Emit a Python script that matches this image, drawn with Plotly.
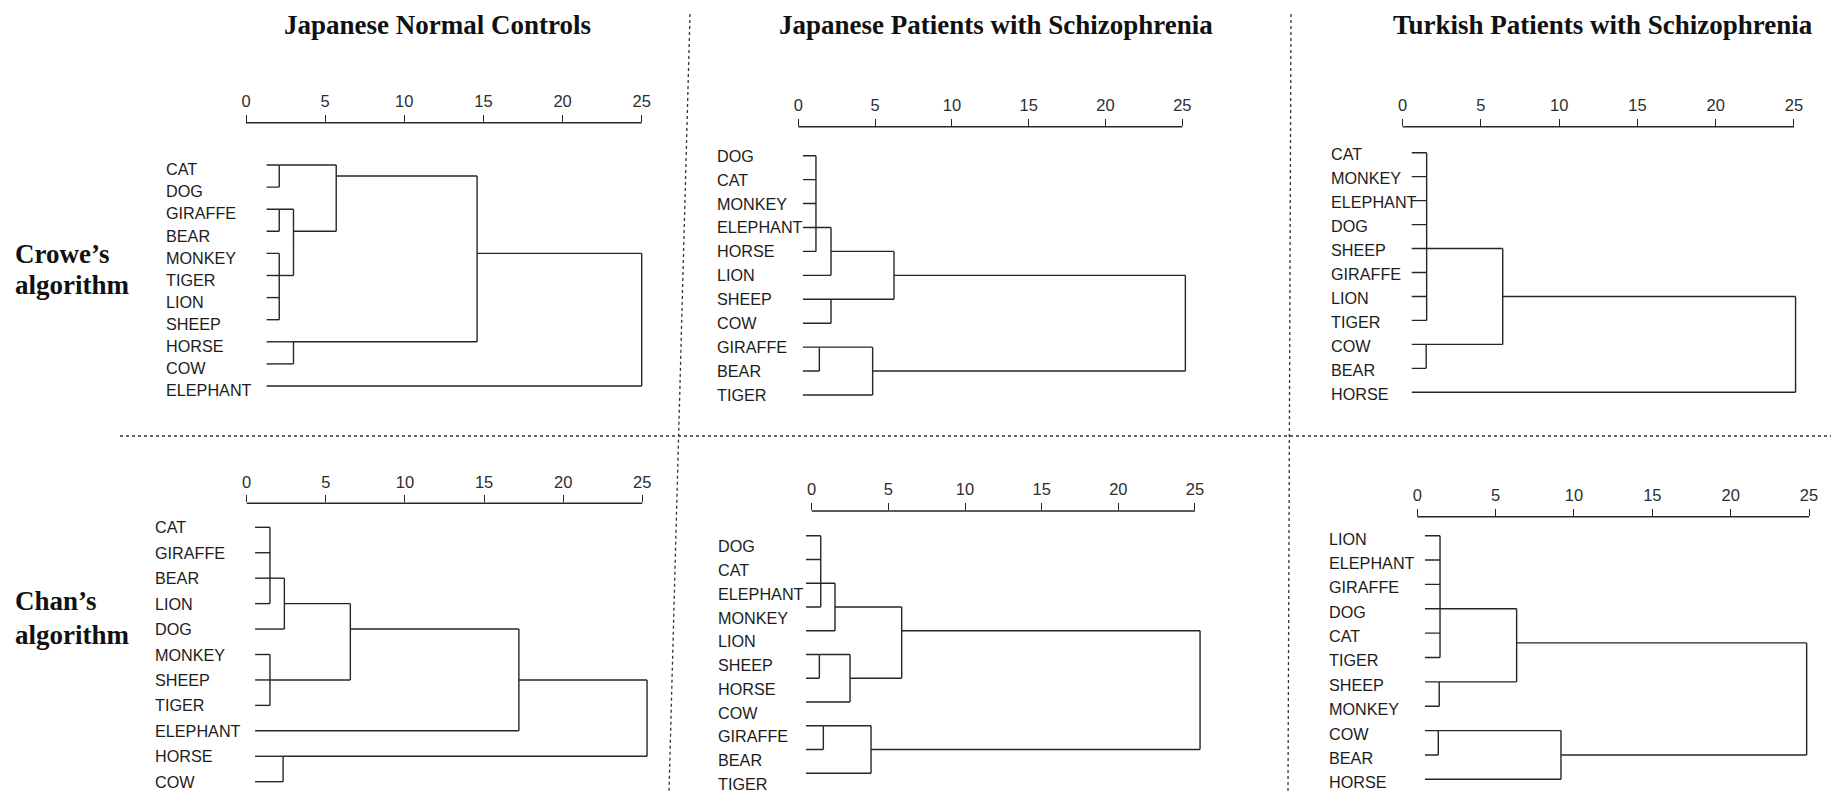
import plotly.graph_objects as go

W, H = 1831, 792

# ---------------- data ----------------
tick_values = [0, 5, 10, 15, 20, 25]
column_titles = ["Japanese Normal Controls",
                 "Japanese Patients with Schizophrenia",
                 "Turkish Patients with Schizophrenia"]
row_titles = [["Crowe’s", "algorithm"], ["Chan’s", "algorithm"]]

# Each merge: (node id, children, rescaled distance, row where the joined branch exits)
jnc_crowe_leaves = ["CAT", "DOG", "GIRAFFE", "BEAR", "MONKEY", "TIGER", "LION",
                    "SHEEP", "HORSE", "COW", "ELEPHANT"]
jnc_crowe_merges = [
    ("a", ["CAT", "DOG"], 2.1, 0),
    ("b", ["GIRAFFE", "BEAR"], 2.1, 2),
    ("c", ["MONKEY", "TIGER", "LION", "SHEEP"], 2.1, 5),
    ("d", ["b", "c"], 3.0, 3),
    ("e", ["a", "d"], 5.7, 0.5),
    ("f", ["HORSE", "COW"], 3.0, 8),
    ("g", ["e", "f"], 14.6, 4),
    ("h", ["g", "ELEPHANT"], 25.0, None),
]

jps_crowe_leaves = ["DOG", "CAT", "MONKEY", "ELEPHANT", "HORSE", "LION", "SHEEP",
                    "COW", "GIRAFFE", "BEAR", "TIGER"]
jps_crowe_merges = [
    ("a", ["DOG", "CAT", "MONKEY", "ELEPHANT", "HORSE"], 1.15, 3),
    ("b", ["a", "LION"], 2.13, 4),
    ("c", ["SHEEP", "COW"], 2.13, 6),
    ("d", ["b", "c"], 6.23, 5),
    ("e", ["GIRAFFE", "BEAR"], 1.37, 8),
    ("f", ["e", "TIGER"], 4.84, 9),
    ("g", ["d", "f"], 25.2, None),
]

tps_crowe_leaves = ["CAT", "MONKEY", "ELEPHANT", "DOG", "SHEEP", "GIRAFFE", "LION",
                    "TIGER", "COW", "BEAR", "HORSE"]
tps_crowe_merges = [
    ("a", ["CAT", "MONKEY", "ELEPHANT", "DOG", "SHEEP", "GIRAFFE", "LION", "TIGER"], 1.53, 4),
    ("b", ["COW", "BEAR"], 1.5, 8),
    ("c", ["a", "b"], 6.39, 6),
    ("d", ["c", "HORSE"], 25.1, None),
]

jnc_chan_leaves = ["CAT", "GIRAFFE", "BEAR", "LION", "DOG", "MONKEY", "SHEEP",
                   "TIGER", "ELEPHANT", "HORSE", "COW"]
jnc_chan_merges = [
    ("a", ["CAT", "GIRAFFE", "BEAR", "LION"], 1.47, 2),
    ("b", ["a", "DOG"], 2.38, 3),
    ("c", ["MONKEY", "SHEEP", "TIGER"], 1.47, 6),
    ("d", ["b", "c"], 6.55, 4),
    ("e", ["d", "ELEPHANT"], 17.2, 6),
    ("f", ["HORSE", "COW"], 2.3, 9),
    ("g", ["e", "f"], 25.3, None),
]

jps_chan_leaves = ["DOG", "CAT", "ELEPHANT", "MONKEY", "LION", "SHEEP", "HORSE",
                   "COW", "GIRAFFE", "BEAR", "TIGER"]
jps_chan_merges = [
    ("a", ["DOG", "CAT", "ELEPHANT", "MONKEY"], 0.59, 2),
    ("b", ["a", "LION"], 1.52, 3),
    ("c", ["SHEEP", "HORSE"], 0.5, 5),
    ("d", ["c", "COW"], 2.5, 6),
    ("e", ["b", "d"], 5.87, 4),
    ("f", ["GIRAFFE", "BEAR"], 0.76, 8),
    ("g", ["f", "TIGER"], 3.87, 9),
    ("h", ["e", "g"], 25.33, None),
]

tps_chan_leaves = ["LION", "ELEPHANT", "GIRAFFE", "DOG", "CAT", "TIGER", "SHEEP",
                   "MONKEY", "COW", "BEAR", "HORSE"]
tps_chan_merges = [
    ("a", ["LION", "ELEPHANT", "GIRAFFE", "DOG", "CAT", "TIGER"], 1.45, 3),
    ("b", ["SHEEP", "MONKEY"], 1.4, 6),
    ("c", ["a", "b"], 6.34, 4.4),
    ("d", ["COW", "BEAR"], 1.34, 8),
    ("e", ["d", "HORSE"], 9.17, 9),
    ("f", ["c", "e"], 24.85, None),
]

# ---------------- layout (pixel geometry of each panel) ----------------
panels = [
    dict(leaves=jnc_crowe_leaves, merges=jnc_crowe_merges, leaf_start=1.3,
         p0=246.0, p25=641.7, axis_y=122.7, r0=165.0, r10=386.0, label_x=165.0, label_off=0.19),
    dict(leaves=jps_crowe_leaves, merges=jps_crowe_merges, leaf_start=0.3,
         p0=798.3, p25=1182.3, axis_y=126.7, r0=155.7, r10=395.0, label_x=716.0, label_off=0.0),
    dict(leaves=tps_crowe_leaves, merges=tps_crowe_merges, leaf_start=0.58,
         p0=1402.7, p25=1794.0, axis_y=126.7, r0=152.7, r10=392.3, label_x=1330.0, label_off=0.05),
    dict(leaves=jnc_chan_leaves, merges=jnc_chan_merges, leaf_start=0.53,
         p0=246.7, p25=642.3, axis_y=503.3, r0=527.3, r10=781.7, label_x=154.0, label_off=0.0),
    dict(leaves=jps_chan_leaves, merges=jps_chan_merges, leaf_start=-0.37,
         p0=811.7, p25=1195.0, axis_y=511.0, r0=535.7, r10=773.3, label_x=716.7, label_off=0.45),
    dict(leaves=tps_chan_leaves, merges=tps_chan_merges, leaf_start=0.49,
         p0=1417.3, p25=1809.0, axis_y=516.7, r0=535.7, r10=779.3, label_x=1328.3, label_off=0.12),
]

LINE_COLOR = "#262626"
TEXT_COLOR = "#1c1c1c"
SANS = "Liberation Sans, Arial, sans-serif"
SERIF = "Liberation Serif, Times New Roman, serif"


def dendro_segments(leaves, merges, leaf_start):
    pos = {name: (leaf_start, i) for i, name in enumerate(leaves)}
    xs, ys = [], []
    for node_id, children, height, exit_row in merges:
        rows = []
        for c in children:
            cx, cy = pos[c]
            xs += [cx, height, None]
            ys += [cy, cy, None]
            rows.append(cy)
        xs += [height, height, None]
        ys += [min(rows), max(rows), None]
        pos[node_id] = (height, exit_row)
    return xs, ys


fig = go.Figure()
layout = dict(width=W, height=H, margin=dict(l=0, r=0, t=0, b=0),
              paper_bgcolor="white", plot_bgcolor="white", showlegend=False,
              autosize=False)
annotations = []
shapes = []

XMIN, XMAX = -1.0, 26.0
for k, p in enumerate(panels, start=1):
    sfx = "" if k == 1 else str(k)
    xs, ys = dendro_segments(p["leaves"], p["merges"], p["leaf_start"])
    fig.add_trace(go.Scatter(x=xs, y=ys, mode="lines",
                             line=dict(color=LINE_COLOR, width=1.4),
                             hoverinfo="skip", xaxis="x" + sfx, yaxis="y" + sfx))
    s = (p["p25"] - p["p0"]) / 25.0
    d0 = (p["p0"] + XMIN * s) / W
    d1 = (p["p0"] + XMAX * s) / W
    h = (p["r10"] - p["r0"]) / 10.0
    r_top = (p["axis_y"] - p["r0"]) / h
    bottom_px = min(p["r10"] + 0.45 * h, 791.0)
    r_bot = (bottom_px - p["r0"]) / h
    layout["xaxis" + sfx] = dict(
        domain=[d0, d1], range=[XMIN, XMAX], anchor="y" + sfx, side="top",
        tickmode="array", tickvals=tick_values, ticktext=[str(v) for v in tick_values],
        ticks="outside", ticklen=7, tickwidth=1.3, tickcolor=LINE_COLOR,
        showline=False, showgrid=False, zeroline=False, ticklabelstandoff=1,
        tickfont=dict(family=SANS, size=16.5, color="#2e2e2e"))
    layout["yaxis" + sfx] = dict(
        domain=[1 - bottom_px / H, 1 - p["axis_y"] / H], range=[r_bot, r_top],
        anchor="x" + sfx, showticklabels=False, showgrid=False, zeroline=False,
        showline=False, ticks="")
    shapes.append(dict(type="line", xref="x" + sfx, yref="y" + sfx + " domain",
                       x0=tick_values[0], x1=tick_values[-1], y0=1, y1=1,
                       line=dict(color=LINE_COLOR, width=1.5)))
    for i, name in enumerate(p["leaves"]):
        annotations.append(dict(text=name, xref="paper", yref="y" + sfx,
                                x=p["label_x"] / W, y=i + p["label_off"],
                                xanchor="left", yanchor="middle", showarrow=False,
                                borderpad=0,
                                font=dict(family=SANS, size=16.2, color=TEXT_COLOR)))

# column titles
title_centers = [437.5, 996.0, 1603.0]
for t, cx in zip(column_titles, title_centers):
    annotations.append(dict(text="<b>" + t + "</b>", xref="paper", yref="paper",
                            x=cx / W, y=1 - 25.0 / H, xanchor="center", yanchor="middle",
                            showarrow=False, font=dict(family=SERIF, size=27, color="#111")))

# row titles
row_title_y = [[254.0, 285.0], [601.0, 635.0]]
for lines, ys in zip(row_titles, row_title_y):
    for txt, yy in zip(lines, ys):
        annotations.append(dict(text="<b>" + txt + "</b>", xref="paper", yref="paper",
                                x=13.0 / W, y=1 - yy / H, xanchor="left", yanchor="middle",
                                showarrow=False, font=dict(family=SERIF, size=27, color="#111")))

# dotted separators
sep = dict(color="#333", width=1.3, dash="dot")
shapes.append(dict(type="line", xref="paper", yref="paper", x0=120 / W, x1=1.0,
                   y0=1 - 436 / H, y1=1 - 436 / H, line=sep))
shapes.append(dict(type="line", xref="paper", yref="paper", x0=690 / W, x1=669 / W,
                   y0=1 - 14 / H, y1=0.0, line=sep))
shapes.append(dict(type="line", xref="paper", yref="paper", x0=1291 / W, x1=1288 / W,
                   y0=1 - 14 / H, y1=0.0, line=sep))

layout["annotations"] = annotations
layout["shapes"] = shapes
fig.update_layout(**layout)
fig.write_html("out.html", config={"displayModeBar": False},
               post_script="document.body.style.margin='0';document.body.style.overflow='hidden';")
